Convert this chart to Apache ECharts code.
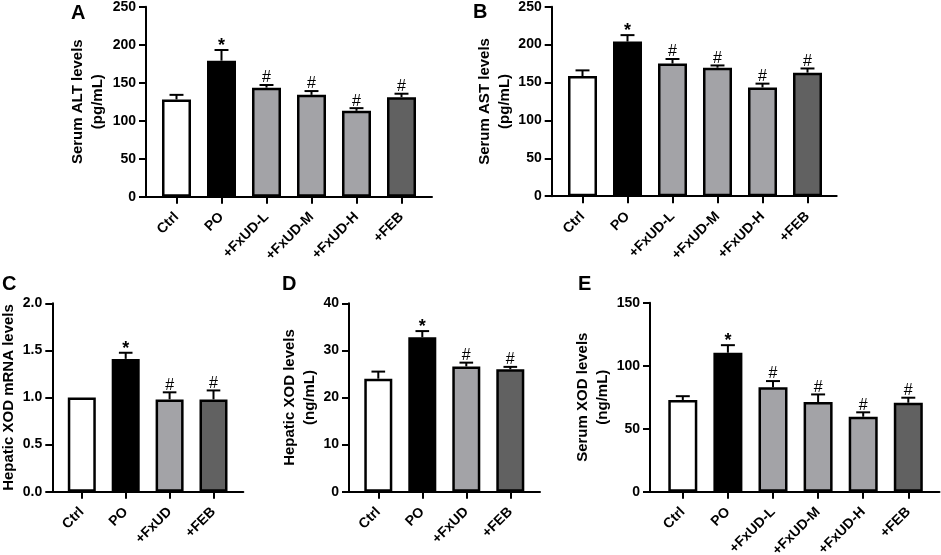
<!DOCTYPE html>
<html><head><meta charset="utf-8">
<script src="https://cdn.jsdelivr.net/npm/echarts@6/dist/echarts.min.js"></script>
<style>html,body{margin:0;padding:0;background:#fff}#c{width:941px;height:555px}</style>
</head><body><div id="c"></div>
<script>
// ---------- data ----------
const groups6 = ['Ctrl', 'PO', '+FxUD-L', '+FxUD-M', '+FxUD-H', '+FEB'];
const groups4 = ['Ctrl', 'PO', '+FxUD', '+FEB'];
const marks6 = ['', '*', '#', '#', '#', '#'];
const marks4 = ['', '*', '#', '#'];

const altMean = [128, 179, 143.5, 134, 113, 131];
const altErr  = [6, 14, 3.5, 5, 3.5, 4.5];

const astMean = [158.5, 204, 175, 169.5, 143.5, 163];
const astErr  = [7.5, 8.5, 6, 3, 5, 5.5];

const mrnaMean = [1.0, 1.41, 0.98, 0.98];
const mrnaErr  = [0, 0.065, 0.075, 0.095];

const hepXodMean = [24, 32.8, 26.6, 26];
const hepXodErr  = [1.5, 1.3, 0.8, 0.5];

const serXodMean = [72.8, 110.3, 82.8, 71.2, 59.5, 70.6];
const serXodErr  = [3, 6, 5, 6, 3.5, 4];

// ---------- styles ----------
const FONT = "'Liberation Sans', Arial, Helvetica, sans-serif";
const WHITE = '#ffffff', BLACK = '#000000', LGRAY = '#a3a3a7', DGRAY = '#616161';
const colors6 = [WHITE, BLACK, LGRAY, LGRAY, LGRAY, DGRAY];
const colors4 = [WHITE, BLACK, LGRAY, DGRAY];

const panels = [
  {letter: 'A', cats: groups6, mean: altMean, err: altErr, marks: marks6, colors: colors6,
   yName: 'Serum ALT levels\n(pg/mL)', yMax: 250, yInt: 50, dec: 0,
   L: {axisX: 146, endX: 432, firstC: 176.5, band: 45, top: 6.7, zero: 196.7, lx: 71, ly: 3, nameGap: 38, barW: 29}},
  {letter: 'B', cats: groups6, mean: astMean, err: astErr, marks: marks6, colors: colors6,
   yName: 'Serum AST levels\n(pg/mL)', yMax: 250, yInt: 50, dec: 0,
   L: {axisX: 551.7, endX: 836.7, firstC: 582.5, band: 45, top: 6.7, zero: 196.2, lx: 473, ly: 2, nameGap: 37, barW: 29}},
  {letter: 'C', cats: groups4, mean: mrnaMean, err: mrnaErr, marks: marks4, colors: colors4,
   yName: 'Hepatic XOD mRNA levels', yMax: 2, yInt: 0.5, dec: 1,
   L: {axisX: 52.3, endX: 243.3, firstC: 81.8, band: 43.9, top: 303.3, zero: 491.7, lx: 2, ly: 274, nameGap: 31, barW: 28}},
  {letter: 'D', cats: groups4, mean: hepXodMean, err: hepXodErr, marks: marks4, colors: colors4,
   yName: 'Hepatic XOD levels\n(ng/mL)', yMax: 40, yInt: 10, dec: 0,
   L: {axisX: 349, endX: 540, firstC: 378.3, band: 44, top: 303.3, zero: 491.7, lx: 282, ly: 274, nameGap: 28, barW: 28}},
  {letter: 'E', cats: groups6, mean: serXodMean, err: serXodErr, marks: marks6, colors: colors6,
   yName: 'Serum XOD levels\n(ng/mL)', yMax: 150, yInt: 50, dec: 0,
   L: {axisX: 650, endX: 939.5, firstC: 682.8, band: 45.1, top: 302.7, zero: 491.7, lx: 578, ly: 274, nameGap: 30, barW: 29}}
];

function makeErrRender(marks) {
  return function (params, api) {
    const x = api.value(0), m = api.value(1), e = api.value(2);
    const mark = marks[params.dataIndex];
    const base = api.coord([x, m]);
    const top = api.coord([x, m + e]);
    const half = api.size([1, 0])[0] * 0.155;
    const children = [];
    if (e > 0) {
      children.push({type: 'line', shape: {x1: base[0], y1: base[1], x2: top[0], y2: top[1]},
        style: {stroke: BLACK, lineWidth: 2}});
      children.push({type: 'line', shape: {x1: top[0] - half, y1: top[1], x2: top[0] + half, y2: top[1]},
        style: {stroke: BLACK, lineWidth: 2}});
    }
    if (mark) {
      const isStar = mark === '*';
      children.push({type: 'text', x: top[0], y: top[1] + (isStar ? 5 : -7),
        style: {text: mark, fill: BLACK, align: 'center', verticalAlign: isStar ? 'bottom' : 'middle',
          font: (isStar ? 'bold 18px ' : 'normal 16px ') + FONT}});
    }
    return {type: 'group', children};
  };
}

const option = {animation: false, backgroundColor: '#fff', title: [], grid: [], xAxis: [], yAxis: [], series: []};

panels.forEach((p, i) => {
  const L = p.L, n = p.cats.length;
  const gFrame = option.grid.length, gMain = gFrame + 1;
  option.title.push({text: p.letter, left: L.lx, top: L.ly, padding: 0,
    textStyle: {fontFamily: FONT, fontWeight: 'bold', fontSize: 20, color: BLACK}});
  option.grid.push({left: L.axisX, top: L.top, width: L.endX - L.axisX, height: L.zero - L.top,
    containLabel: false, outerBoundsMode: 'none'});
  option.grid.push({left: L.firstC - L.band / 2, top: L.top, width: L.band * n, height: L.zero - L.top,
    containLabel: false, outerBoundsMode: 'none'});
  option.xAxis.push({type: 'value', gridIndex: gFrame, min: 0, max: 1,
    axisLine: {show: true, lineStyle: {color: BLACK, width: 2}},
    axisTick: {show: false}, axisLabel: {show: false}, splitLine: {show: false}});
  option.yAxis.push({type: 'value', gridIndex: gFrame, min: 0, max: p.yMax, interval: p.yInt,
    name: p.yName, nameLocation: 'middle', nameRotate: 90, nameGap: L.nameGap,
    nameTextStyle: {fontFamily: FONT, fontWeight: 'bold', fontSize: 15, color: BLACK, lineHeight: 20},
    axisLine: {show: true, lineStyle: {color: BLACK, width: 2}},
    axisTick: {show: true, length: 7, lineStyle: {color: BLACK, width: 2}},
    axisLabel: {show: true, margin: 10, fontFamily: FONT, fontWeight: 'bold', fontSize: 14, color: BLACK,
      formatter: v => Number(v).toFixed(p.dec)},
    splitLine: {show: false}});
  option.xAxis.push({type: 'category', gridIndex: gMain, data: p.cats,
    axisLine: {show: false},
    axisTick: {show: true, alignWithLabel: true, length: 7, lineStyle: {color: BLACK, width: 2}},
    axisLabel: {show: true, rotate: 45, margin: 18, interval: 0, fontFamily: FONT, fontWeight: 'bold', fontSize: 14, color: BLACK},
    splitLine: {show: false}});
  option.yAxis.push({type: 'value', gridIndex: gMain, min: 0, max: p.yMax, show: false, splitLine: {show: false}});
  option.series.push({type: 'bar', xAxisIndex: gMain, yAxisIndex: gMain, barWidth: L.barW,
    data: p.mean.map((v, k) => ({value: v, itemStyle: {color: p.colors[k]}})),
    itemStyle: {borderColor: BLACK, borderWidth: 2.5}, z: 2});
  option.series.push({type: 'custom', xAxisIndex: gMain, yAxisIndex: gMain, renderItem: makeErrRender(p.marks),
    data: p.mean.map((v, k) => [k, v, p.err[k]]), z: 3});
});

const chart = echarts.init(document.getElementById('c'), null, {renderer: 'canvas'});
chart.setOption(option);
</script></body></html>
